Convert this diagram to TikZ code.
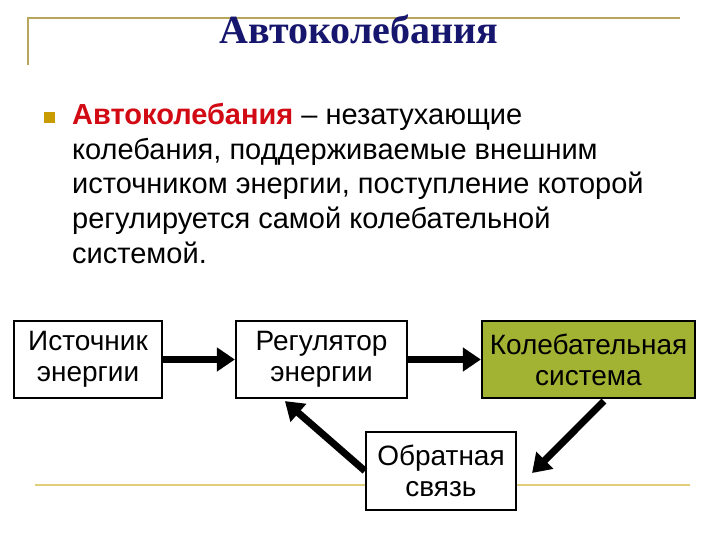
\documentclass[tikz,border=0pt]{standalone}
\usepackage{fontspec}
\setmainfont{Liberation Sans}
\newfontfamily\titlefont{Liberation Serif}
\usetikzlibrary{arrows.meta,calc}
\definecolor{goldline}{RGB}{184,166,92}
\definecolor{goldline2}{RGB}{226,206,120}
\definecolor{navy}{RGB}{22,22,110}
\definecolor{redw}{RGB}{210,10,20}
\definecolor{bulletc}{RGB}{200,155,0}
\definecolor{olivefill}{RGB}{162,178,50}
\tikzset{
  box/.style={draw=black, line width=2.2pt, fill=white, align=center, inner sep=0pt,
    font=\fontsize{28}{31}\selectfont, minimum height=77pt},
  bodyline/.style={anchor=base west, inner sep=0pt, font=\fontsize{29}{34}\selectfont},
  arr/.style={line width=7pt, -{Triangle[length=18pt,width=23pt]}}
}
\begin{document}
\begin{tikzpicture}[x=1pt,y=-1pt]
\useasboundingbox (0,0) rectangle (720,540);
\fill[white] (0,0) rectangle (720,540);
% decorative gold lines
\draw[goldline, line width=2pt] (28,65) -- (28,18) -- (680,18);
\draw[goldline2, line width=2pt] (35,485) -- (690,485);
% title
\node[anchor=base, inner sep=0pt, text=navy, font=\titlefont\bfseries\fontsize{40}{42}\selectfont] (title) at (359,44) {Автоколебания};
% bullet
\fill[bulletc] (44,112) rectangle (55,123);
% body text
\node[bodyline] (b1) at (72,125) {\textcolor{redw}{\bfseries Автоколебания} -- незатухающие};
\node[bodyline] (b2) at (72,159.5) {колебания, поддерживаемые внешним};
\node[bodyline] (b3) at (72,194) {источником энергии, поступление которой};
\node[bodyline] (b4) at (72,228.5) {регулируется самой колебательной};
\node[bodyline] (b5) at (72,263) {системой.};
% boxes
\node[box, minimum width=148pt] (src) at (88,359.5) {Источник\\энергии};
\node[box, minimum width=171pt] (reg) at (321.5,359.5) {Регулятор\\энергии};
\node[box, minimum width=213pt, fill=olivefill] (kol) at (588.5,359.5) {Колебательная\\система};
\node[box, minimum width=150pt, minimum height=78pt] (fb) at (441,471) {Обратная\\связь};
% arrows
\draw[arr] (src.east) -- (reg.west);
\draw[arr] (reg.east) -- (kol.west);
\draw[arr] ($(kol.south west)+(123,2)$) -- ($(fb.east)+(15,2)$);
\draw[arr] ($(fb.north west)+(0,40)$) -- ($(reg.south west)+(50,2)$);
\end{tikzpicture}
\end{document}
